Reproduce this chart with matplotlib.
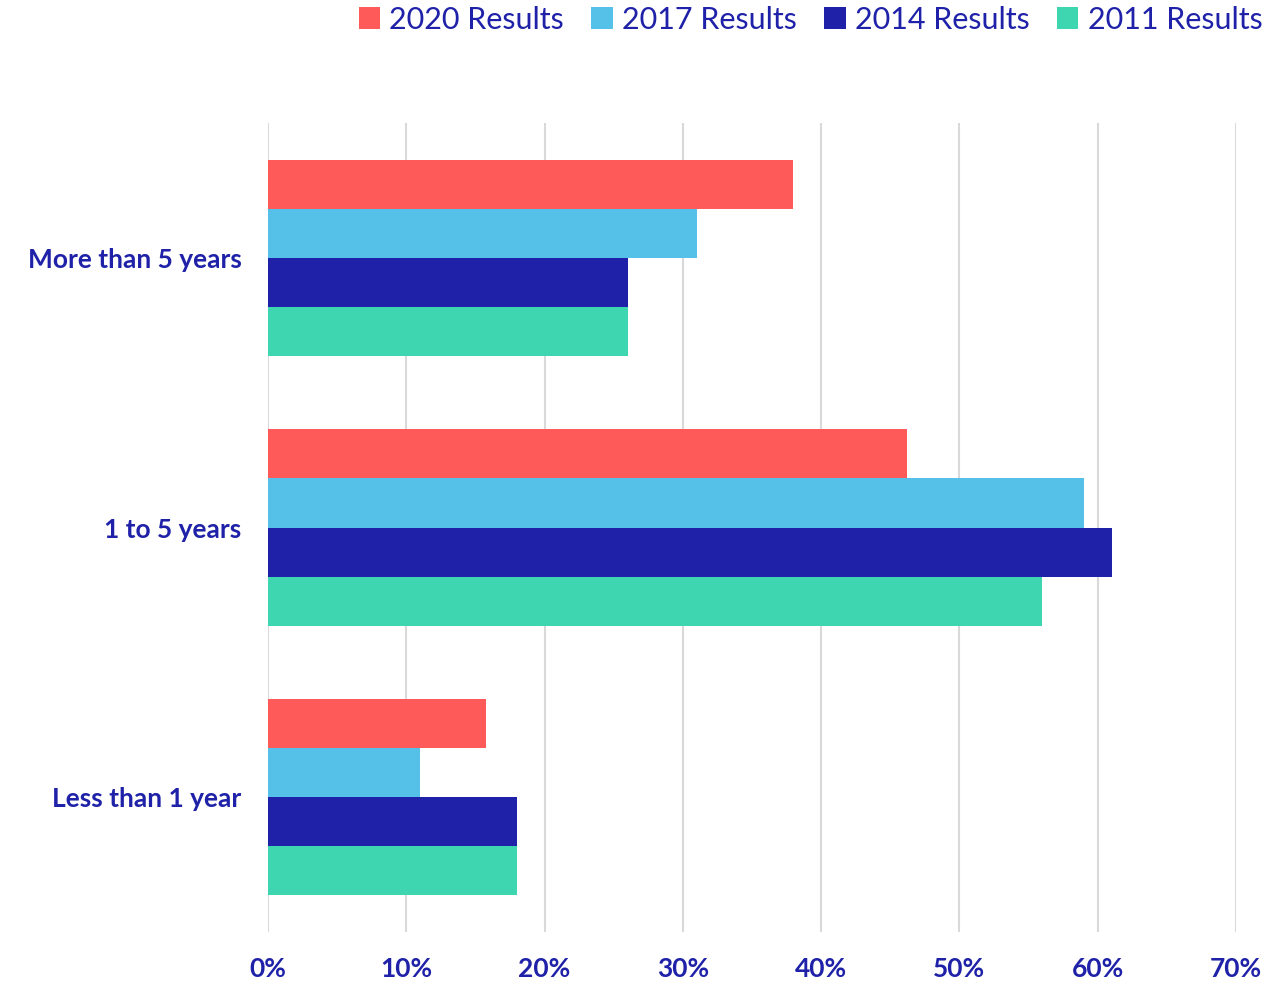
import matplotlib.pyplot as plt
import numpy as np
from matplotlib.ticker import FuncFormatter

plt.rcParams["font.family"] = ["Lato", "DejaVu Sans"]

categories = ["More than 5 years", "1 to 5 years", "Less than 1 year"]
series_names = ["2020 Results", "2017 Results", "2014 Results", "2011 Results"]
results_2020 = [38, 46.2, 15.8]
results_2017 = [31, 59, 11]
results_2014 = [26, 61, 18]
results_2011 = [26, 56, 18]

colors = ["#FF5A5A", "#56C1E8", "#1F22A8", "#3DD6B0"]
text_color = "#1F22A8"

fig = plt.figure(figsize=(12.86, 9.84), dpi=100)
ax = fig.add_axes([268 / 1286, 1 - 932 / 984, (1236 - 268) / 1286, (932 - 123) / 984])

y = np.arange(len(categories))
bar_h = 0.182
all_series = [results_2020, results_2017, results_2014, results_2011]
for i, (vals, name, c) in enumerate(zip(all_series, series_names, colors)):
    offset = (i - 1.5) * bar_h
    ax.barh(y + offset, vals, height=bar_h, color=c, label=name, zorder=3)

ax.set_ylim(2.5, -0.5)
ax.set_xlim(0, 70)
ax.set_xticks(np.arange(0, 71, 10))
ax.xaxis.set_major_formatter(FuncFormatter(lambda v, p: f"{int(v)}%"))
ax.set_yticks(y)
ax.set_yticklabels(categories)

ax.grid(axis="x", color="#D9D9D9", linewidth=1.5, zorder=0)
for s in ax.spines.values():
    s.set_visible(False)
ax.tick_params(axis="both", length=0, labelcolor=text_color)
ax.tick_params(axis="x", pad=18)
ax.tick_params(axis="y", pad=19)
for lab in ax.get_xticklabels() + ax.get_yticklabels():
    lab.set_fontsize(19)
    lab.set_fontweight("bold")

leg = fig.legend(loc="upper right", bbox_to_anchor=(1.003, 1.022), ncol=4, frameon=False,
                 handlelength=0.7, handleheight=0.7, handletextpad=0.3, columnspacing=0.9,
                 prop={"size": 22, "weight": "normal"})
for t in leg.get_texts():
    t.set_color(text_color)

fig.savefig("out.png", dpi=100, facecolor="white")
